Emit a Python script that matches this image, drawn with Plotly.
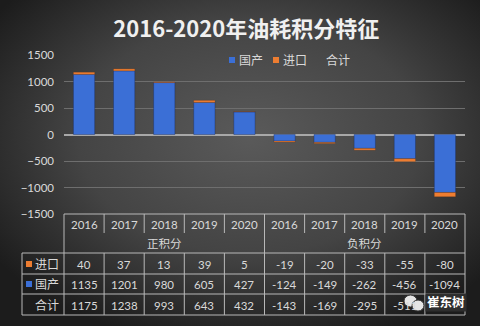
import base64
import plotly.graph_objects as go

# ---------------- data ----------------
years = ["2016", "2017", "2018", "2019", "2020"]
groups = ["正积分", "负积分"]
series_names = ["国产", "进口", "合计"]
pos_import = [40, 37, 13, 39, 5]
pos_domestic = [1135, 1201, 980, 605, 427]
pos_total = [1175, 1238, 993, 643, 432]
neg_import = [-19, -20, -33, -55, -80]
neg_domestic = [-124, -149, -262, -456, -1094]
neg_total = [-143, -169, -295, -511, -1174]
y_ticks = [1500, 1000, 500, 0, -500, -1000, -1500]

domestic = pos_domestic + neg_domestic
imported = pos_import + neg_import
total = pos_total + neg_total
col_years = years + years
xs = list(range(len(domestic)))

# ---------------- styling ----------------
W, H = 480, 326
L, R, T, B = 64, 465, 55, 214   # plot area in pixels
BLUE = "#3b6fd6"
ORANGE = "#ed7d31"
TXT = "#d9d9d9"
LINE = "#b8b8b8"
FONT = "Lato, Noto Sans CJK SC, sans-serif"


def px(p):
    return (p - L) / (R - L)


def py(p):
    return (B - p) / (B - T)


fig = go.Figure()
fig.add_trace(go.Bar(x=xs, y=domestic, name=series_names[0], marker_color=BLUE,
                     marker_line=dict(color="rgba(20,40,90,0.6)", width=0.6)))
fig.add_trace(go.Bar(x=xs, y=imported, name=series_names[1], marker_color=ORANGE,
                     marker_line=dict(color="rgba(90,40,10,0.5)", width=0.4)))
fig.add_trace(go.Scatter(x=xs, y=total, name=series_names[2], mode="markers",
                         marker=dict(opacity=0, size=1), hoverinfo="skip"))

# background radial gradient
svg = f'''<svg xmlns="http://www.w3.org/2000/svg" width="{W}" height="{H}">
<defs><radialGradient id="g" cx="52%" cy="42%" r="65%">
<stop offset="0%" stop-color="#5a5a5a"/><stop offset="55%" stop-color="#444444"/>
<stop offset="100%" stop-color="#1c1c1c"/></radialGradient></defs>
<rect width="{W}" height="{H}" fill="url(#g)"/></svg>'''
src = "data:image/svg+xml;base64," + base64.b64encode(svg.encode()).decode()

shapes = []
annotations = []


def hline(x0, x1, y):
    shapes.append(dict(type="line", xref="paper", yref="paper", x0=x0, x1=x1, y0=y, y1=y,
                       line=dict(color=LINE, width=1)))


def vline(x, y0, y1):
    shapes.append(dict(type="line", xref="paper", yref="paper", x0=x, x1=x, y0=y0, y1=y1,
                       line=dict(color=LINE, width=1)))


def text(x, y, s, size=11.5, color=TXT, xanchor="center", bold=False, bg=None):
    a = dict(xref="paper", yref="paper", x=x, y=y, text=f"<b>{s}</b>" if bold else s,
             showarrow=False, xanchor=xanchor, yanchor="middle",
             font=dict(size=size, color=color, family=FONT))
    if bg:
        a.update(bgcolor=bg, borderpad=1)
    annotations.append(a)


def square(x0, yc, color, s=6):
    shapes.append(dict(type="rect", xref="paper", yref="paper", x0=px(x0), x1=px(x0 + s),
                       y0=py(yc + s / 2), y1=py(yc - s / 2), fillcolor=color, line=dict(width=0)))


n = len(xs)
rows_px = [214, 233, 253, 274, 294, 315]
y_top, y_mid, y_hdr, y_r1, y_r2, y_bot = [py(v) for v in rows_px]
x_head = px(22)

# legend (drawn)
square(229, 60, BLUE)
text(px(237), py(60), series_names[0], size=12, xanchor="left")
square(273, 60, ORANGE)
text(px(281), py(60), series_names[1], size=12, xanchor="left")
text(px(324), py(60), series_names[2], size=12, xanchor="left")

# table lines
hline(0, 1, y_top)
for yy in (y_hdr, y_r1, y_r2, y_bot):
    hline(x_head, 1, yy)
for k in range(n + 1):
    vline(k / n, y_mid, y_top)          # year header verticals
    vline(k / n, y_bot, y_hdr)          # data rows verticals
for k in (0, n // 2, n):
    vline(k / n, y_hdr, y_mid)          # group row
vline(x_head, y_bot, y_hdr)

# header texts
for i, yr in enumerate(col_years):
    text((i + 0.5) / n, py(224), yr)
text(0.25, py(243.5), groups[0])
text(0.75, py(243.5), groups[1])

# data rows
row_y = [py(264), py(284), py(305)]
for i in range(n):
    text((i + 0.5) / n, row_y[0], str(imported[i]))
    text((i + 0.5) / n, row_y[1], str(domestic[i]))
    text((i + 0.5) / n, row_y[2], str(total[i]))

# row headers
text(px(61), row_y[0], series_names[1], xanchor="right", size=12)
text(px(61), row_y[1], series_names[0], xanchor="right", size=12)
text(px(61), row_y[2], series_names[2], xanchor="right", size=12)
square(26, 264, ORANGE)
square(26, 284, BLUE)

# watermark (covers part of the last row, as in the source image)
shapes.append(dict(type="circle", xref="paper", yref="paper", x0=px(404), x1=px(417),
                   y0=py(307), y1=py(295), fillcolor="#e6e6e6",
                   line=dict(color="#333333", width=1)))
shapes.append(dict(type="circle", xref="paper", yref="paper", x0=px(412), x1=px(424),
                   y0=py(311), y1=py(300), fillcolor="#e6e6e6",
                   line=dict(color="#333333", width=1)))
text(px(445.5), py(302), "崔东树", size=12.5, color="white", bold=True, bg="#2e2e2e")

fig.update_layout(
    width=W, height=H,
    margin=dict(l=L, r=W - R, t=T, b=H - B),
    paper_bgcolor="#333333", plot_bgcolor="rgba(0,0,0,0)",
    barmode="relative", bargap=0.47,
    title=dict(text="<b>2016-2020年油耗积分特征</b>", x=0.513, xanchor="center", y=0.91, yanchor="middle",
               font=dict(size=22, color="#f0f0f0", family="Noto Sans CJK SC, sans-serif")),
    font=dict(family=FONT, color=TXT, size=11.5),
    showlegend=False,
    xaxis=dict(range=[-0.5, n - 0.5], showticklabels=False, showgrid=False, zeroline=False,
               fixedrange=True),
    yaxis=dict(range=[-1500, 1500], tickvals=y_ticks, showgrid=True, gridcolor="#6e6e6e",
               gridwidth=1, zeroline=True, zerolinecolor="#a8a8a8", zerolinewidth=1.5,
               ticklabelstandoff=9, tickfont=dict(size=11.5, color=TXT), fixedrange=True),
    images=[dict(source=src, xref="paper", yref="paper", x=px(0), y=py(0),
                 sizex=W / (R - L), sizey=H / (B - T), xanchor="left", yanchor="top",
                 sizing="stretch", layer="below")],
    shapes=shapes, annotations=annotations,
)

fig.write_html("out.html")
